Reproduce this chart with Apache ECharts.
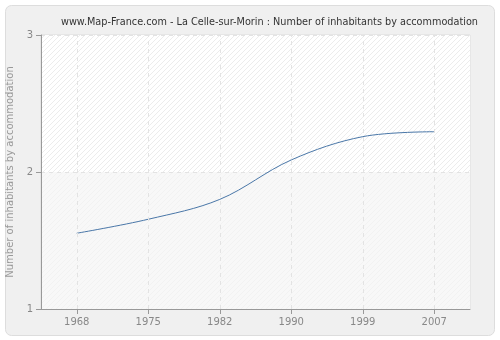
<!DOCTYPE html>
<html>
<head>
<meta charset="utf-8">
<script src="https://cdn.jsdelivr.net/npm/echarts@6/dist/echarts.min.js"></script>
<style>
  html, body { margin: 0; padding: 0; background: #ffffff; }
  #chart { width: 500px; height: 340px; }
</style>
</head>
<body>
<div id="chart"></div>
<script>
// Census years and average number of inhabitants per accommodation
const years = ['1968', '1975', '1982', '1990', '1999', '2007'];
const inhabitantsPerDwelling = [1.553, 1.655, 1.80, 2.088, 2.258, 2.294];
const yTicks = [1, 2, 3];

// Small diagonal hatch tile used to fill the plot bands
function hatch(base, line) {
  const c = document.createElement('canvas');
  c.width = 5; c.height = 5;
  const g = c.getContext('2d');
  g.fillStyle = base;
  g.fillRect(0, 0, 5, 5);
  g.strokeStyle = line;
  g.lineWidth = 1;
  g.beginPath();
  g.moveTo(0, 5); g.lineTo(5, 0);
  g.moveTo(-2.5, 2.5); g.lineTo(2.5, -2.5);
  g.moveTo(2.5, 7.5); g.lineTo(7.5, 2.5);
  g.stroke();
  return { image: c, repeat: 'repeat' };
}

const dashed = { color: '#e3e3e3', type: [4, 4], width: 1 };

const chart = echarts.init(document.getElementById('chart'), null, { renderer: 'canvas' });
chart.setOption({
  animation: false,
  backgroundColor: '#ffffff',
  graphic: [{
    type: 'rect',
    shape: { x: 5.5, y: 5.5, width: 489, height: 330, r: 6 },
    style: { fill: '#f0f0f0', stroke: '#dddddd', lineWidth: 1 },
    z: -10
  }],
  title: {
    text: 'www.Map-France.com - La Celle-sur-Morin : Number of inhabitants by accommodation',
    left: 56, top: 12,
    textStyle: { fontFamily: 'DejaVu Sans', fontSize: 9.7, fontWeight: 'normal', color: '#333333' }
  },
  grid: {
    left: 41, right: 30, top: 35, bottom: 31,
    outerBoundsMode: 'none', containLabel: false,
    show: true, borderColor: '#dddddd', borderWidth: 1, backgroundColor: 'transparent'
  },
  xAxis: {
    type: 'category',
    data: years,
    boundaryGap: true,
    axisLine: { show: true, lineStyle: { color: '#999999' } },
    axisTick: { show: true, alignWithLabel: true, length: 5, lineStyle: { color: '#999999' } },
    axisLabel: { color: '#888888', fontFamily: 'DejaVu Sans', fontSize: 10, margin: 8 },
    splitLine: { show: false }
  },
  yAxis: {
    type: 'value',
    min: yTicks[0], max: yTicks[yTicks.length - 1], interval: 1,
    name: 'Number of inhabitants by accommodation',
    nameLocation: 'middle', nameGap: 20, nameRotate: 90,
    nameTextStyle: { color: '#999999', fontFamily: 'DejaVu Sans', fontSize: 10 },
    axisLine: { show: true, lineStyle: { color: '#999999' } },
    axisTick: { show: true, length: 5, lineStyle: { color: '#999999' } },
    axisLabel: { color: '#888888', fontFamily: 'DejaVu Sans', fontSize: 10, margin: 8 },
    splitLine: { show: true, lineStyle: dashed },
    splitArea: { show: true, areaStyle: { color: [hatch('#f8f8f8', '#f2f2f2'), hatch('#ffffff', '#ececec')] } }
  },
  series: [{
    type: 'line',
    data: inhabitantsPerDwelling,
    smooth: 0.35,
    symbol: 'none',
    lineStyle: { color: '#4a77a8', width: 1 },
    // vertical dashed guides at each census year
    markLine: {
      silent: true,
      symbol: 'none',
      label: { show: false },
      lineStyle: dashed,
      data: years.map(y => ({ xAxis: y }))
    },
    z: 3
  }]
});
</script>
</body>
</html>
